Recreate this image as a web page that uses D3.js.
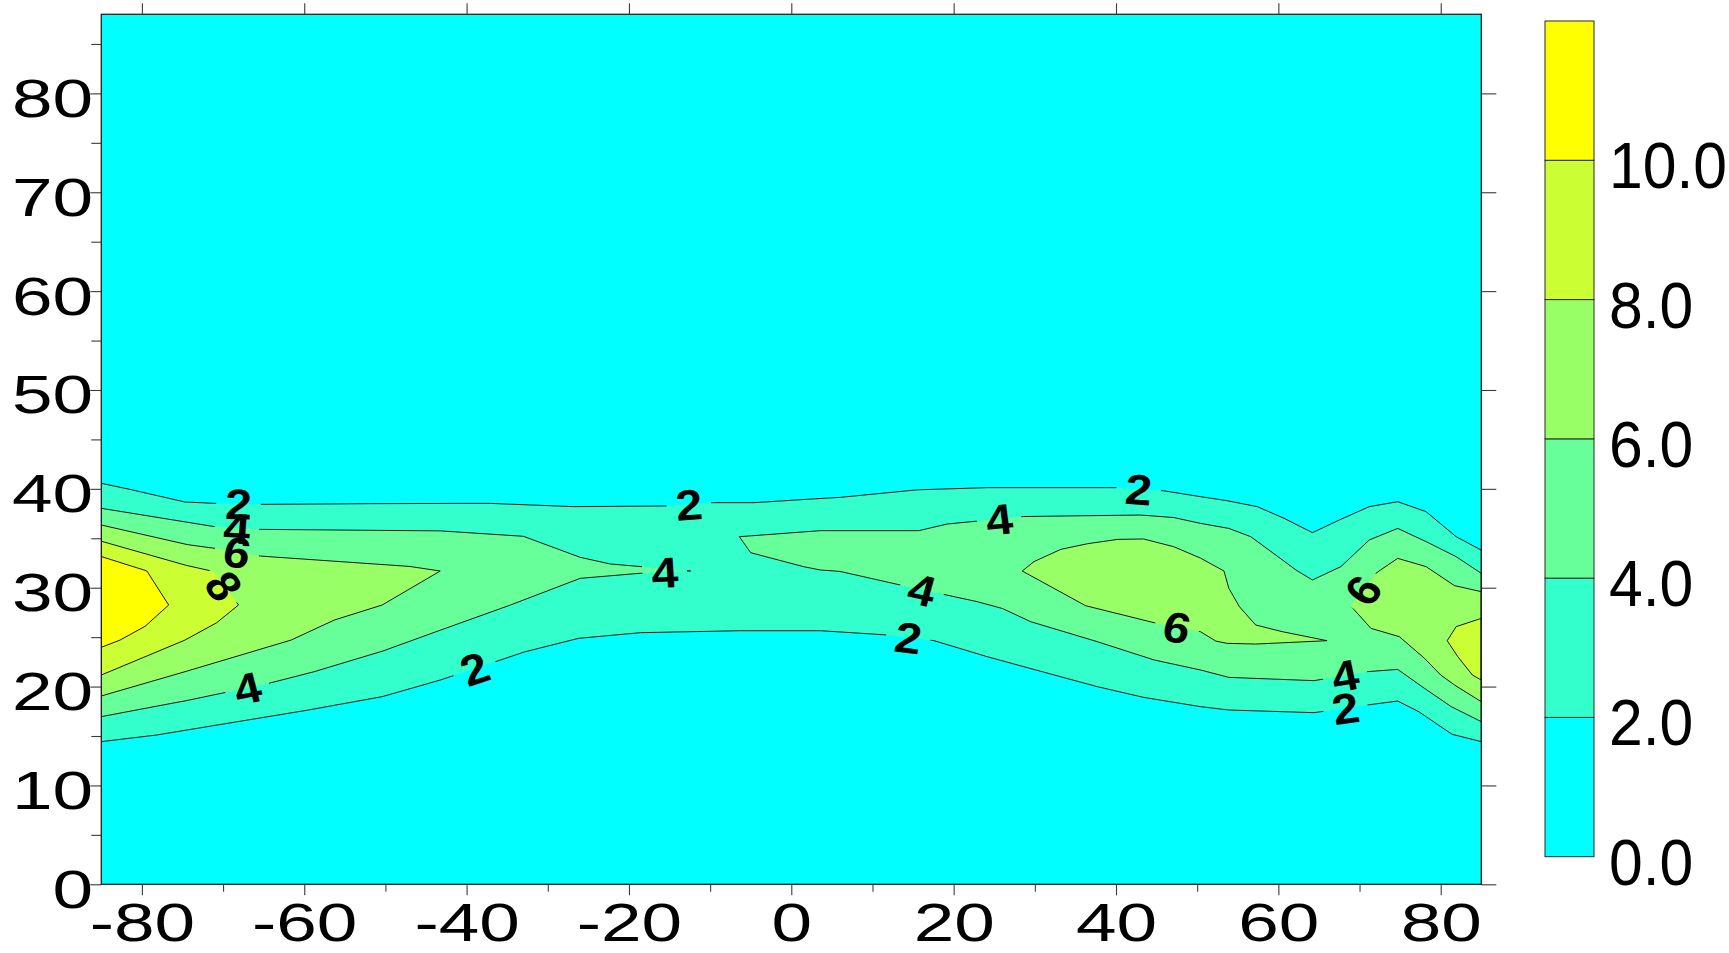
<!DOCTYPE html>
<html>
<head>
<meta charset="utf-8">
<script src="https://cdn.jsdelivr.net/npm/d3@7"></script>
<style>
  html, body { margin: 0; padding: 0; background: #ffffff; }
  svg { display: block; font-family: "Liberation Sans", Arial, Helvetica, sans-serif; }
</style>
</head>
<body>
<svg id="chart" width="1729" height="953"></svg>
<script>
// ---------------------------------------------------------------
// Axis ticks and colour levels
// ---------------------------------------------------------------
const xTicks = [-80, -60, -40, -20, 0, 20, 40, 60, 80];
const xMinorTicks = [-70, -50, -30, -10, 10, 30, 50, 70];
const yTicks = [0, 10, 20, 30, 40, 50, 60, 70, 80];
const yMinorTicks = [5, 15, 25, 35, 45, 55, 65, 75, 85];
const xDomain = [-85, 85];
const yDomain = [0, 88];

const levels = [0, 2, 4, 6, 8, 10];
const levelColors = ["#00FFFF", "#33FFCC", "#66FF99", "#99FF66", "#CCFF33", "#FFFF00"];
const legendMax = 12;
const legendLabels = ["0.0", "2.0", "4.0", "6.0", "8.0", "10.0"];

// ---------------------------------------------------------------
// Contour outlines [x, y]; each ring encloses the area >= its level
// ---------------------------------------------------------------
const ring2 = [
  [-85, 40.56], [-81.5, 39.95], [-74.7, 38.67], [-71, 38.53], [-65.4, 38.43], [-52, 38.5],
  [-40.8, 38.53], [-37.1, 38.53], [-26.8, 38.2], [-15.3, 38.27], [-9.6, 38.6], [-4.6, 38.6],
  [1.9, 38.94], [6.05, 39.14], [15.5, 39.9], [24.1, 40.12], [40.2, 40.12], [45.9, 39.8],
  [50.4, 39.21], [53.7, 38.8], [57.4, 38.2], [60.7, 37.02], [64.2, 35.57], [67.7, 36.92],
  [71.2, 38.2], [74.7, 38.7], [78.2, 37.69], [81.9, 35.16], [85, 33.8],
  [85, 14.43], [81.4, 15.17], [77.3, 17.46], [74.7, 18.54], [71, 18.14], [64.4, 17.36],
  [53.9, 17.63], [50.4, 17.97], [43.4, 18.91], [37.7, 19.99], [32.4, 21.17], [24.1, 23.03],
  [17.6, 24.64], [11.8, 25.22], [3.6, 25.65], [-6.3, 25.65], [-18.6, 25.45], [-26.2, 24.88],
  [-32.9, 23.5], [-36.5, 22.5], [-43.25, 20.66], [-50.4, 18.98], [-59.7, 17.6], [-78.2, 15.1],
  [-85, 14.43]
];

const ring4West = [
  [-85, 38.03], [-71, 36.17], [-65.4, 35.9], [-43.25, 35.75], [-33, 35.2], [-26, 33.07],
  [-22.3, 32.4], [-12.4, 31.7], [-18.6, 31.46], [-26, 30.95], [-34.6, 28.25], [-43.25, 25.7],
  [-50.3, 23.6], [-58.8, 21.5], [-64.5, 20.3], [-74.4, 18.6], [-85, 16.96]
];

const ring4East = [
  [-6.4, 35.16], [3.6, 35.77], [15.7, 35.77], [19.2, 36.44], [28.65, 37.2], [43, 37.35],
  [47.1, 37.1], [50.4, 36.51], [53.9, 36.0], [56.6, 35.16], [62.3, 31.72], [64.2, 30.78],
  [67.7, 32.13], [71.2, 34.83], [74.7, 36.0], [78.2, 34.66], [81.9, 33.14], [85, 31.45],
  [85, 16.45], [81.3, 17.97], [78, 19.82], [74.7, 21.74], [71, 21.51], [64.4, 20.6],
  [53.9, 20.93], [50.4, 21.68], [44.7, 22.69], [37.7, 24.54], [29.5, 26.56], [26, 27.9],
  [22.9, 28.59], [13.45, 30.27], [6, 31.65], [3.6, 31.79], [1.5, 32.13], [-5, 33.54]
];

const ring6West = [
  [-85, 36.34], [-74.4, 34.36], [-71, 33.98], [-65.4, 33.2], [-47, 32.15], [-43.25, 31.69],
  [-50.4, 28.25], [-56.3, 26.73], [-61.6, 24.71], [-74.5, 21.55], [-85, 19.05]
];

const ring6Mid = [
  [28.45, 31.69], [29.9, 32.64], [33.2, 33.88], [36.5, 34.45], [40.2, 34.89], [43.4, 34.93],
  [47.1, 34.15], [50.4, 33.0], [53.3, 31.69], [53.9, 29.94], [55.2, 28.08], [57.2, 26.23],
  [60.5, 25.55], [66, 24.64], [57.2, 24.3], [53.7, 24.37], [52.3, 24.6], [50.4, 25.55],
  [44.7, 26.46], [36.25, 28.18]
];

const ring6East = [
  [72, 31.45], [72.6, 31.8], [74.7, 32.97], [78.2, 32.13], [81.7, 30.21], [85, 29.6],
  [85, 18.47], [81.7, 20.16], [80, 21.17], [78, 22.86], [74.9, 25.05], [71.4, 25.89],
  [68.9, 28.18]
];

const ring8West = [
  [-85, 34.7], [-74.5, 32.25], [-71.2, 31.65], [-68.1, 28.25], [-70.8, 26.45], [-74.7, 24.7],
  [-85, 21.17]
];

const ring8East = [
  [85, 26.9], [81.9, 26.06], [80.8, 24.64], [82.1, 23.03], [83.9, 21.17], [85, 20.66]
];

const ring10West = [
  [-85, 33.15], [-79.4, 31.7], [-76.7, 28.25], [-79.6, 26.1], [-82.7, 24.7], [-85, 23.97]
];

// Contour labels: level shown and the approximate spot on its line
const labelLevels = [2, 4, 6, 8, 4, 2, 2, 4, 4, 4, 2, 2, 6, 6, 4, 2];
const labelLon    = [-68.1, -68.3, -68.3, -70.0, -67.0, -38.9, -12.6, -15.6, 25.6, 16.1, 14.4, 42.8, 47.5, 70.5, 68.2, 68.3];
const labelLat    = [38.46, 35.95, 33.5, 30.1, 19.8, 21.5, 38.3, 31.6, 36.9, 29.8, 24.9, 40.0, 25.9, 29.7, 21.2, 17.6];

const contourRings = [
  { level: 2, ring: ring2 },
  { level: 4, ring: ring4West },
  { level: 4, ring: ring4East },
  { level: 6, ring: ring6West },
  { level: 6, ring: ring6Mid },
  { level: 6, ring: ring6East },
  { level: 8, ring: ring8West },
  { level: 8, ring: ring8East },
  { level: 10, ring: ring10West }
];

// ---------------------------------------------------------------
// Layout
// ---------------------------------------------------------------
const plot = { left: 101.3, right: 1481.3, top: 14.3, bottom: 884.3 };
const bar = { left: 1545, right: 1594, top: 21, bottom: 856.7 };
const axisFont = 54, axisStretch = 1.35;
const legendFont = 64.5, legendStretch = 0.94;
const labelFont = 43, labelStretch = 1.12;

const x = d3.scaleLinear().domain(xDomain).range([plot.left, plot.right]);
const y = d3.scaleLinear().domain(yDomain).range([plot.bottom, plot.top]);
const colorOf = d3.scaleOrdinal().domain(levels).range(levelColors);

const svg = d3.select("#chart");
const defs = svg.append("defs");

defs.append("clipPath").attr("id", "plot-clip")
  .append("rect")
  .attr("x", plot.left).attr("y", plot.top)
  .attr("width", plot.right - plot.left).attr("height", plot.bottom - plot.top);

const ringPath = d3.line().x(d => x(d[0])).y(d => y(d[1])).curve(d3.curveLinearClosed);

// Filled bands
const field = svg.append("g").attr("clip-path", "url(#plot-clip)");
field.append("rect")
  .attr("x", plot.left).attr("y", plot.top)
  .attr("width", plot.right - plot.left).attr("height", plot.bottom - plot.top)
  .attr("fill", colorOf(0));
field.selectAll("path.band")
  .data(contourRings)
  .join("path")
  .attr("class", "band")
  .attr("d", d => ringPath(d.ring))
  .attr("fill", d => colorOf(d.level))
  .attr("stroke", "none");

// Place each label on the nearest segment of its level's contour
function snapToContour(level, px, py) {
  let best = null;
  contourRings.filter(r => r.level === level).forEach(r => {
    const pts = r.ring.map(d => [x(d[0]), y(d[1])]);
    for (let i = 0; i < pts.length; i++) {
      const a = pts[i], b = pts[(i + 1) % pts.length];
      const dx = b[0] - a[0], dy = b[1] - a[1];
      const len2 = dx * dx + dy * dy;
      if (!len2) continue;
      let t = ((px - a[0]) * dx + (py - a[1]) * dy) / len2;
      t = Math.max(0, Math.min(1, t));
      const qx = a[0] + t * dx, qy = a[1] + t * dy;
      const dist = (qx - px) ** 2 + (qy - py) ** 2;
      if (!best || dist < best.dist) best = { dist, qx, qy, dx, dy };
    }
  });
  return best;
}

const placed = labelLevels.map((lev, i) => {
  const hit = snapToContour(lev, x(labelLon[i]), y(labelLat[i]));
  let ang = Math.atan2(hit.dy, hit.dx / labelStretch) * 180 / Math.PI;
  if (ang > 90) ang -= 180;
  if (ang < -90) ang += 180;
  return { level: lev, px: hit.qx, py: hit.qy, angle: ang };
});
const labelTransform = d => `translate(${d.px},${d.py}) scale(${labelStretch},1) rotate(${d.angle})`;

// Masks that open a gap in each contour line where its labels sit
levels.slice(1).forEach(lev => {
  const m = defs.append("mask").attr("id", `gap-${lev}`)
    .attr("maskUnits", "userSpaceOnUse")
    .attr("x", 0).attr("y", 0).attr("width", 1729).attr("height", 953);
  m.append("rect").attr("x", 0).attr("y", 0).attr("width", 1729).attr("height", 953).attr("fill", "#fff");
  const gapW = String(lev).length * 0.556 * labelFont + 16;
  m.selectAll("rect.gap")
    .data(placed.filter(p => p.level === lev))
    .join("rect")
    .attr("class", "gap")
    .attr("transform", labelTransform)
    .attr("x", -gapW / 2).attr("y", -17)
    .attr("width", gapW).attr("height", 34)
    .attr("fill", "#000");
});

// Contour lines
field.selectAll("path.isoline")
  .data(contourRings)
  .join("path")
  .attr("class", "isoline")
  .attr("d", d => ringPath(d.ring))
  .attr("fill", "none")
  .attr("stroke", "#161616")
  .attr("stroke-width", 1)
  .attr("stroke-linejoin", "round")
  .attr("mask", d => `url(#gap-${d.level})`);

// Contour labels
svg.append("g").selectAll("text")
  .data(placed)
  .join("text")
  .attr("transform", labelTransform)
  .attr("text-anchor", "middle")
  .attr("dy", "0.36em")
  .attr("font-size", labelFont)
  .attr("font-weight", "bold")
  .attr("fill", "#000")
  .text(d => d.level);

// ---------------------------------------------------------------
// Axes
// ---------------------------------------------------------------
function styleAxis(g) {
  g.attr("font-size", null).attr("font-family", null);
  g.select(".domain").remove();
  g.selectAll(".tick line").attr("stroke", "#3a3a3a").attr("stroke-width", 1.1);
}

const fmt = d => String(d);

svg.append("g")
  .attr("transform", `translate(0,${plot.bottom})`)
  .call(d3.axisBottom(x).tickValues(xMinorTicks).tickSize(7.5).tickSizeOuter(0).tickFormat(""))
  .call(styleAxis);

const bottomAxis = svg.append("g")
  .attr("transform", `translate(0,${plot.bottom})`)
  .call(d3.axisBottom(x).tickValues(xTicks).tickSize(11).tickSizeOuter(0).tickFormat(fmt))
  .call(styleAxis);
bottomAxis.selectAll("text")
  .attr("y", 56.5).attr("dy", null)
  .attr("transform", `scale(${axisStretch},1)`)
  .attr("font-size", axisFont).attr("fill", "#000");

svg.append("g")
  .attr("transform", `translate(${plot.left},0)`)
  .call(d3.axisLeft(y).tickValues(yMinorTicks).tickSize(10).tickSizeOuter(0).tickFormat(""))
  .call(styleAxis);

const leftAxis = svg.append("g")
  .attr("transform", `translate(${plot.left},0)`)
  .call(d3.axisLeft(y).tickValues(yTicks).tickSize(11).tickSizeOuter(0).tickFormat(fmt))
  .call(styleAxis);
leftAxis.selectAll("text")
  .attr("x", null).attr("dy", null).attr("y", 23)
  .attr("transform", `translate(-8.3,0) scale(${axisStretch},1)`)
  .attr("font-size", axisFont).attr("fill", "#000");

svg.append("g")
  .attr("transform", `translate(0,${plot.top})`)
  .call(d3.axisTop(x).tickValues(xTicks).tickSize(11).tickSizeOuter(0).tickFormat(""))
  .call(styleAxis);

svg.append("g")
  .attr("transform", `translate(${plot.right},0)`)
  .call(d3.axisRight(y).tickValues(yTicks).tickSize(15).tickSizeOuter(0).tickFormat(""))
  .call(styleAxis);

// Plot frame
svg.append("rect")
  .attr("x", plot.left).attr("y", plot.top)
  .attr("width", plot.right - plot.left).attr("height", plot.bottom - plot.top)
  .attr("fill", "none").attr("stroke", "#1e1e1e").attr("stroke-width", 1.3);

// ---------------------------------------------------------------
// Colour bar
// ---------------------------------------------------------------
const cy = d3.scaleLinear().domain([0, legendMax]).range([bar.bottom, bar.top]);
const bandTops = levels.map((l, i) => i < levels.length - 1 ? levels[i + 1] : legendMax);

const legend = svg.append("g");
legend.selectAll("rect")
  .data(levels)
  .join("rect")
  .attr("x", bar.left)
  .attr("width", bar.right - bar.left)
  .attr("y", (d, i) => cy(bandTops[i]))
  .attr("height", (d, i) => cy(d) - cy(bandTops[i]))
  .attr("fill", d => colorOf(d))
  .attr("stroke", "#2a2a2a")
  .attr("stroke-width", 1);

legend.selectAll("text")
  .data(levels)
  .join("text")
  .attr("transform", (d, i) => `translate(1609,${cy(d) + 28}) scale(${legendStretch},1)`)
  .attr("font-size", legendFont)
  .attr("fill", "#000")
  .text((d, i) => legendLabels[i]);
</script>
</body>
</html>
